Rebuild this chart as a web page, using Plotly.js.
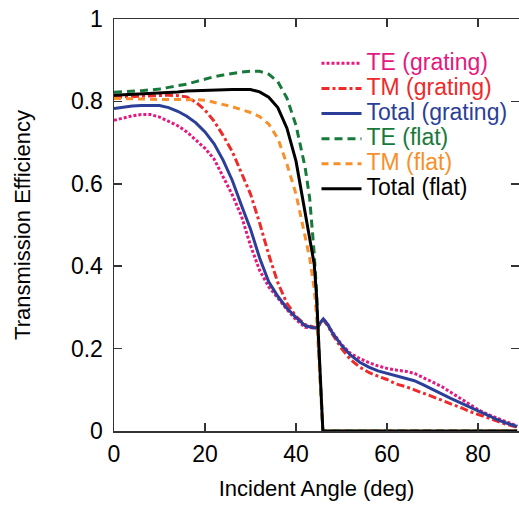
<!DOCTYPE html>
<html>
<head>
<meta charset="utf-8">
<script src="https://cdn.plot.ly/plotly-3.0.1.min.js"></script>
<style>html,body{margin:0;padding:0;background:#fff;}#chart{width:519px;height:506px;}</style>
</head>
<body>
<div id="chart"></div>
<script>
// Angles (deg) for grating curves
const angleGrating = [0,2,4,6,8,10,12,14,16,18,20,22,24,26,28,30,32,34,36,38,40,42,44,44.7,45.3,46,47,48,50,52,54,56,58,60,62,64,66,68,70,72,74,76,78,80,82,84,86,88,88.6];
const teGrating = [0.754,0.759,0.765,0.768,0.768,0.762,0.751,0.741,0.726,0.706,0.686,0.66,0.618,0.573,0.522,0.45,0.39,0.35,0.323,0.295,0.27,0.252,0.25,0.25,0.262,0.272,0.258,0.24,0.21,0.188,0.176,0.166,0.158,0.152,0.148,0.145,0.14,0.13,0.12,0.108,0.094,0.08,0.066,0.052,0.041,0.032,0.024,0.015,0.012];
const tmGrating = [0.81,0.811,0.812,0.813,0.814,0.815,0.815,0.814,0.811,0.798,0.779,0.752,0.717,0.678,0.628,0.575,0.505,0.428,0.36,0.31,0.278,0.258,0.252,0.25,0.262,0.27,0.255,0.235,0.2,0.173,0.155,0.142,0.133,0.125,0.114,0.108,0.1,0.092,0.084,0.075,0.066,0.058,0.048,0.04,0.032,0.024,0.017,0.011,0.009];
const totalGrating = [0.783,0.786,0.789,0.79,0.79,0.79,0.785,0.776,0.764,0.748,0.726,0.697,0.657,0.608,0.548,0.49,0.42,0.362,0.327,0.298,0.276,0.256,0.25,0.25,0.262,0.272,0.258,0.238,0.208,0.184,0.167,0.155,0.146,0.14,0.135,0.129,0.122,0.112,0.102,0.09,0.079,0.069,0.058,0.048,0.038,0.029,0.02,0.012,0.011];

// Angles (deg) for flat-interface curves
const angleFlat = [0,2,4,6,8,10,12,14,16,18,20,22,24,26,28,30,32,34,36,38,40,42,43,44,44.5,45,45.9,88.6];
const teFlat = [0.822,0.823,0.825,0.826,0.828,0.83,0.834,0.838,0.842,0.848,0.854,0.86,0.864,0.868,0.871,0.873,0.873,0.866,0.848,0.808,0.742,0.64,0.565,0.43,0.34,0.2,0,0];
const tmFlat = [0.807,0.807,0.806,0.806,0.805,0.805,0.805,0.805,0.804,0.804,0.803,0.798,0.792,0.787,0.78,0.773,0.763,0.745,0.71,0.648,0.575,0.47,0.42,0.345,0.28,0.18,0,0];
const totalFlat = [0.815,0.816,0.818,0.819,0.82,0.821,0.822,0.823,0.825,0.826,0.827,0.828,0.829,0.829,0.829,0.829,0.823,0.81,0.785,0.735,0.655,0.53,0.475,0.405,0.33,0.2,0,0];

const names = ["TE (grating)","TM (grating)","Total (grating)","TE (flat)","TM (flat)","Total (flat)"];
const colors = ["#e3197f","#ee2a2a","#2c3f98","#17793a","#f7902b","#000000"];

function label(i){ return '<span style="color:'+colors[i]+';font-size:23px">'+names[i]+'</span>'; }

const traces = [
  {x: angleGrating, y: teGrating, name: label(0), mode:'lines', line:{color:colors[0], width:3, dash:'3px,2px'}},
  {x: angleGrating, y: tmGrating, name: label(1), mode:'lines', line:{color:colors[1], width:3, dash:'8px,3px,3px,3px'}},
  {x: angleGrating, y: totalGrating, name: label(2), mode:'lines', line:{color:colors[2], width:3}},
  {x: angleFlat, y: teFlat, name: label(3), mode:'lines', line:{color:colors[3], width:3, dash:'8px,5px'}},
  {x: angleFlat, y: tmFlat, name: label(4), mode:'lines', line:{color:colors[4], width:3, dash:'7px,5px'}},
  {x: angleFlat, y: totalFlat, name: label(5), mode:'lines', line:{color:colors[5], width:3}}
];

const layout = {
  width: 519, height: 506,
  margin: {l:114, r:0, t:18.5, b:75},
  paper_bgcolor:'#fff', plot_bgcolor:'#fff',
  font: {family:'"Liberation Sans", Arial, sans-serif', color:'#000'},
  showlegend: true,
  legend: {x:0.5, y:0.935, xanchor:'left', yanchor:'top', bgcolor:'rgba(0,0,0,0)', font:{size:17}, itemwidth:40, tracegroupgap:0},
  xaxis: {
    range:[0,89], tickmode:'array', tickvals:[0,20,40,60,80], ticktext:['0','20','40','60','80'],
    ticks:'inside', ticklen:8, tickwidth:1.5, tickcolor:'#333', showline:true, linecolor:'#333', linewidth:1.5,
    mirror:'ticks', showgrid:false, zeroline:false, tickfont:{size:23}, ticklabelstandoff:2,
    title:{text:'Incident Angle (deg)', font:{size:22}, standoff:14}
  },
  yaxis: {
    range:[0,1], tickmode:'array', tickvals:[0,0.2,0.4,0.6,0.8,1], ticktext:['0','0.2','0.4','0.6','0.8','1'],
    ticks:'inside', ticklen:8, tickwidth:1.5, tickcolor:'#333', showline:true, linecolor:'#333', linewidth:1.5,
    mirror:'ticks', showgrid:false, zeroline:false, tickfont:{size:23}, ticklabelstandoff:5,
    title:{text:'Transmission Efficiency', font:{size:22}, standoff:34}
  }
};

Plotly.newPlot('chart', traces, layout, {displayModeBar:false, staticPlot:true});
</script>
</body>
</html>
